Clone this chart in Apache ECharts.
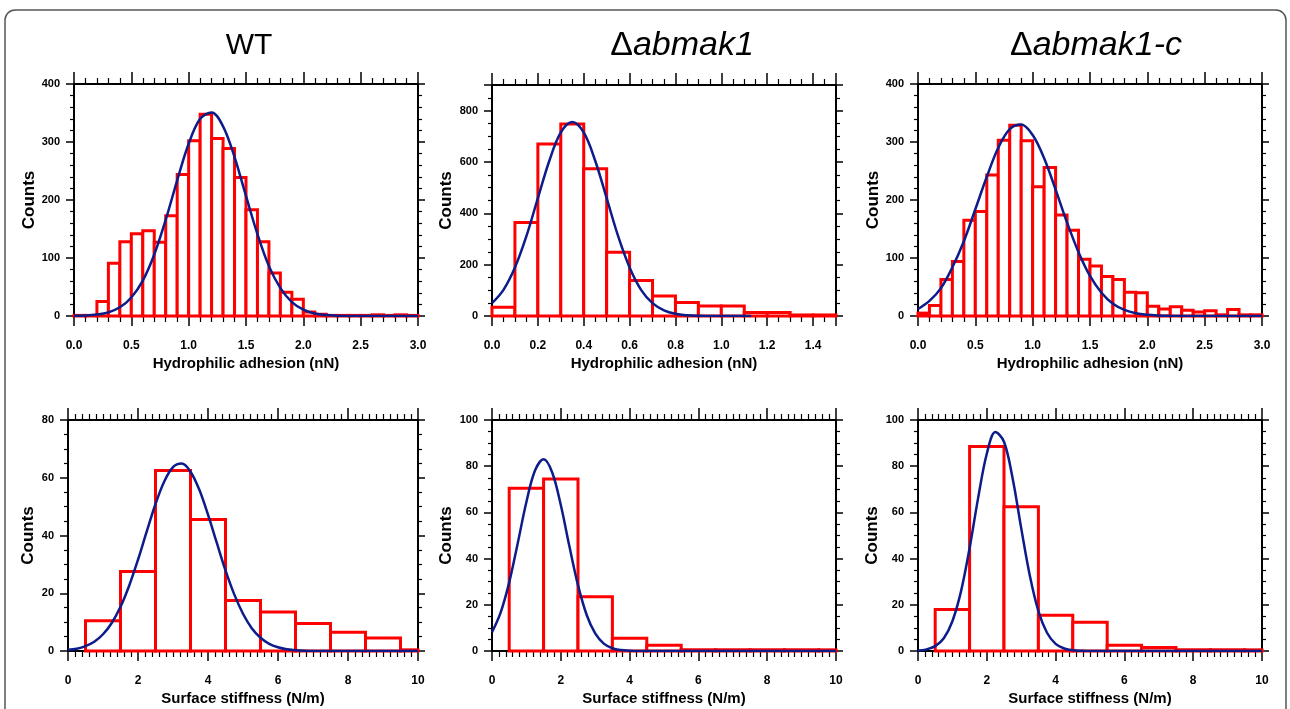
<!DOCTYPE html>
<html><head><meta charset="utf-8">
<script src="https://cdn.jsdelivr.net/npm/echarts@6/dist/echarts.min.js"></script>
<style>html,body{margin:0;padding:0;background:#fff}#c{width:1290px;height:709px}</style>
</head><body><div id="c"></div>
<script>
// ---------- texts ----------
const panelTitleLead = ['', 'Δ', 'Δ'];
const panelTitleRest = ['WT', 'abmak1', 'abmak1-c'];
const adhesionAxisName = 'Hydrophilic adhesion (nN)';
const stiffnessAxisName = 'Surface stiffness (N/m)';
const countsAxisName = 'Counts';

// ---------- axis ranges / tick steps ----------
const topXMax = [3.0, 1.5, 3.0];
const topXStep = [0.5, 0.2, 0.5];
const topYMax = [400, 900, 400];
const topYStep = [100, 200, 100];
const botXMax = [10, 10, 10];
const botXStep = [2, 2, 2];
const botYMax = [80, 100, 100];
const botYStep = [20, 20, 20];

// ---------- histograms: hydrophilic adhesion (bin width 0.1 nN) ----------
const adhBinWidth = 0.1;
const adhBinStart30 = [0.0,0.1,0.2,0.3,0.4,0.5,0.6,0.7,0.8,0.9,1.0,1.1,1.2,1.3,1.4,1.5,1.6,1.7,1.8,1.9,2.0,2.1,2.2,2.3,2.4,2.5,2.6,2.7,2.8,2.9];
const adhBinStart15 = [0.0,0.1,0.2,0.3,0.4,0.5,0.6,0.7,0.8,0.9,1.0,1.1,1.2,1.3,1.4];
const wtAdhCounts = [1,1,25,91,128,142,147,127,173,244,302,348,306,289,239,183,128,74,41,29,7,3,1,1,1,1,2,1,2,1];
const mutAdhCounts = [34,364,670,748,574,248,138,78,53,39,39,14,14,4,4];
const compAdhCounts = [5,18,63,94,165,180,243,303,329,302,223,256,174,148,98,86,68,63,41,40,17,12,16,10,7,9,2,11,2,2];

// ---------- histograms: surface stiffness (bin width 1 N/m) ----------
const stiffBinWidth = 1;
const stiffBinStart = [0.5,1.5,2.5,3.5,4.5,5.5,6.5,7.5,8.5,9.5];
const wtStiffCounts = [10.5,27.5,62.5,45.5,17.5,13.5,9.5,6.5,4.5,0.4];
const mutStiffCounts = [70.5,74.5,23.5,5.5,2.5,0.5,0.5,0.5,0.5,0.5];
const compStiffCounts = [18,88.5,62.5,15.5,12.5,2.5,1.5,0.5,0.5,0.5];

// ---------- Gaussian fit curves ----------
const wtAdhFit = [[0,0.3],[0.1,0.8],[0.2,2.4],[0.3,6.3],[0.4,15],[0.5,32],[0.6,61],[0.7,106],[0.8,166],[0.9,234],[1.0,297],[1.1,340],[1.2,351],[1.3,327],[1.4,274],[1.5,207],[1.6,141],[1.7,86],[1.8,48],[1.9,24],[2.0,11],[2.1,4.3],[2.2,1.6],[2.3,0.5],[2.4,0.1],[2.6,0],[3.0,0]];
const mutAdhFit = [[0,50],[0.05,102],[0.1,189],[0.15,311],[0.2,459],[0.25,605],[0.3,715],[0.35,756],[0.4,715],[0.45,605],[0.5,459],[0.55,311],[0.6,189],[0.65,102],[0.7,50],[0.75,22],[0.8,8.4],[0.85,2.9],[0.9,0.9],[0.95,0.3],[1.0,0.1],[1.13,0]];
const compAdhFit = [[0,12],[0.1,26],[0.2,48],[0.3,84],[0.4,129],[0.5,184],[0.6,240],[0.7,290],[0.8,322],[0.9,330],[1.0,312],[1.1,272],[1.2,218],[1.3,161],[1.4,110],[1.5,69],[1.6,40],[1.7,21],[1.8,10.5],[1.9,4.7],[2.0,2],[2.1,0.8],[2.2,0.3],[2.4,0],[3.0,0]];
const wtStiffFit = [[0,0.4],[0.25,0.8],[0.5,1.7],[0.75,3.2],[1,5.8],[1.25,9.7],[1.5,15.3],[1.75,22.7],[2,31.6],[2.25,41.4],[2.5,50.9],[2.75,58.7],[3,63.7],[3.25,64.9],[3.5,62.1],[3.75,55.9],[4,47.2],[4.25,37.5],[4.5,27.9],[4.75,19.6],[5,12.9],[5.25,7.9],[5.5,4.6],[5.75,2.5],[6,1.3],[6.25,0.6],[6.5,0.3],[6.75,0.1],[7,0],[10,0]];
const mutStiffFit = [[0,8.1],[0.25,16.6],[0.5,29.7],[0.75,46.8],[1,64.5],[1.25,78.1],[1.5,83],[1.75,77.3],[2,63.2],[2.25,45.3],[2.5,28.5],[2.75,15.7],[3,7.6],[3.25,3.2],[3.5,1.2],[3.75,0.4],[4,0.1],[4.25,0],[10,0]];
const compStiffFit = [[0,0.2],[0.25,0.7],[0.5,2.1],[0.75,5.5],[1,12.9],[1.25,25.8],[1.5,44.6],[1.75,66.4],[2,85.4],[2.25,94.8],[2.5,90.6],[2.75,74.8],[3,53.2],[3.25,32.7],[3.5,17.3],[3.75,7.9],[4,3.1],[4.25,1.1],[4.5,0.3],[4.75,0.1],[5,0],[10,0]];

// ---------- assembly ----------
const panels = [
  {bins: adhBinStart30, w: adhBinWidth, counts: wtAdhCounts, fit: wtAdhFit, xMax: topXMax[0], xStep: topXStep[0], yMax: topYMax[0], yStep: topYStep[0], xName: adhesionAxisName, dec: 1},
  {bins: adhBinStart15, w: adhBinWidth, counts: mutAdhCounts, fit: mutAdhFit, xMax: topXMax[1], xStep: topXStep[1], yMax: topYMax[1], yStep: topYStep[1], xName: adhesionAxisName, dec: 1},
  {bins: adhBinStart30, w: adhBinWidth, counts: compAdhCounts, fit: compAdhFit, xMax: topXMax[2], xStep: topXStep[2], yMax: topYMax[2], yStep: topYStep[2], xName: adhesionAxisName, dec: 1},
  {bins: stiffBinStart, w: stiffBinWidth, counts: wtStiffCounts, fit: wtStiffFit, xMax: botXMax[0], xStep: botXStep[0], yMax: botYMax[0], yStep: botYStep[0], xName: stiffnessAxisName, dec: 0},
  {bins: stiffBinStart, w: stiffBinWidth, counts: mutStiffCounts, fit: mutStiffFit, xMax: botXMax[1], xStep: botXStep[1], yMax: botYMax[1], yStep: botYStep[1], xName: stiffnessAxisName, dec: 0},
  {bins: stiffBinStart, w: stiffBinWidth, counts: compStiffCounts, fit: compStiffFit, xMax: botXMax[2], xStep: botXStep[2], yMax: botYMax[2], yStep: botYStep[2], xName: stiffnessAxisName, dec: 0}
];

// layout (pixels) and tick styling
const layout = [
  {left: 74, top: 84, width: 344, height: 232, xMinor: 5, yMinor: 5, nameGapY: 36},
  {left: 492, top: 85, width: 344, height: 231, xMinor: 4, yMinor: 4, nameGapY: 37},
  {left: 918, top: 84, width: 344, height: 232, xMinor: 5, yMinor: 5, nameGapY: 36},
  {left: 68, top: 420, width: 350, height: 231, xMinor: 10, yMinor: 4, nameGapY: 31},
  {left: 492, top: 420, width: 344, height: 231, xMinor: 10, yMinor: 4, nameGapY: 37},
  {left: 918, top: 420, width: 344, height: 231, xMinor: 10, yMinor: 4, nameGapY: 37}
];

const FONT = '"Liberation Sans", Arial, sans-serif';
const axisLine = {show: true, onZero: false, lineStyle: {color: '#000', width: 2}};
const tickStyle = {show: true, inside: false, length: 10, lineStyle: {color: '#000', width: 1.5}};
const minorStyle = (n) => ({show: true, splitNumber: n, length: 6, lineStyle: {color: '#000', width: 1.2}});
const onStep = (max, step) => Math.abs(Math.round(max / step) * step - max) < 1e-9;

const grid = [], xAxis = [], yAxis = [], series = [];
panels.forEach((p, i) => {
  const L = layout[i];
  grid.push({left: L.left, top: L.top, width: L.width, height: L.height, containLabel: false});
  const xBase = {type: 'value', gridIndex: i, min: 0, max: p.xMax, interval: p.xStep, axisLine, axisTick: tickStyle, minorTick: minorStyle(L.xMinor), splitLine: {show: false}};
  xAxis.push(Object.assign({}, xBase, {
    position: 'bottom',
    name: p.xName, nameLocation: 'middle', nameGap: 40,
    nameTextStyle: {fontFamily: FONT, fontWeight: 'bold', fontSize: 15, color: '#000'},
    axisLabel: {show: true, margin: 24, fontFamily: FONT, fontWeight: 'bold', fontSize: 12, color: '#000',
      showMaxLabel: onStep(p.xMax, p.xStep), formatter: v => v.toFixed(p.dec)}
  }));
  xAxis.push(Object.assign({}, xBase, {position: 'top', axisTick: Object.assign({}, tickStyle, {length: 12}), minorTick: Object.assign(minorStyle(L.xMinor), {length: 6}), axisLabel: {show: false}}));
  const yBase = {type: 'value', gridIndex: i, min: 0, max: p.yMax, interval: p.yStep, axisLine, axisTick: Object.assign({}, tickStyle, {length: 8}), minorTick: Object.assign(minorStyle(L.yMinor), {length: 4}), splitLine: {show: false}};
  yAxis.push(Object.assign({}, yBase, {
    position: 'left',
    name: countsAxisName, nameLocation: 'middle', nameGap: L.nameGapY,
    nameTextStyle: {fontFamily: FONT, fontWeight: 'bold', fontSize: 17, color: '#000'},
    axisLabel: {show: true, margin: 14, fontFamily: FONT, fontWeight: 'bold', fontSize: 11, color: '#000', showMaxLabel: onStep(p.yMax, p.yStep)}
  }));
  yAxis.push(Object.assign({}, yBase, {position: 'right', axisLabel: {show: false}, axisTick: Object.assign({}, tickStyle, {length: 7}), minorTick: Object.assign(minorStyle(L.yMinor), {length: 4})}));

  series.push({
    type: 'custom', xAxisIndex: 2 * i, yAxisIndex: 2 * i, z: 3,
    data: p.bins.map((s, k) => [s, s + p.w, p.counts[k]]),
    encode: {x: [0, 1], y: 2},
    renderItem: (params, api) => {
      const p0 = api.coord([api.value(0), 0]);
      const p1 = api.coord([api.value(1), api.value(2)]);
      const cs = params.coordSys;
      const right = Math.min(p1[0], cs.x + cs.width);
      return {type: 'rect', shape: {x: p0[0], y: p1[1], width: right - p0[0], height: p0[1] - p1[1]},
        style: {fill: '#fff', stroke: '#ff0000', lineWidth: 3}};
    },
    silent: true
  });
  series.push({
    type: 'line', xAxisIndex: 2 * i, yAxisIndex: 2 * i, z: 4,
    data: p.fit, smooth: 0.35, showSymbol: false, symbol: 'none',
    lineStyle: {color: '#0c1c8a', width: 2.5}, silent: true
  });
});

// titles
const titleCenters = [249, 682, 1096];
const graphic = [
  {type: 'rect', z: -1, shape: {x: 5, y: 10, width: 1281, height: 760, r: 10}, style: {fill: 'none', stroke: '#555', lineWidth: 1.5}}
];
titleCenters.forEach((cx, i) => {
  const italic = i > 0;
  graphic.push({
    type: 'text', x: cx, y: 46,
    style: {
      text: (panelTitleLead[i] ? '{d|' + panelTitleLead[i] + '}' : '') + '{t|' + panelTitleRest[i] + '}',
      align: 'center', verticalAlign: 'middle',
      rich: {
        d: {fontFamily: FONT, fontSize: 34, fill: '#000'},
        t: {fontFamily: FONT, fontSize: italic ? 34 : 30, fontStyle: italic ? 'italic' : 'normal', fill: '#000'}
      }
    }
  });
});

const chart = echarts.init(document.getElementById('c'), null, {renderer: 'canvas'});
chart.setOption({animation: false, backgroundColor: '#fff', grid, xAxis, yAxis, series, graphic});
</script></body></html>
